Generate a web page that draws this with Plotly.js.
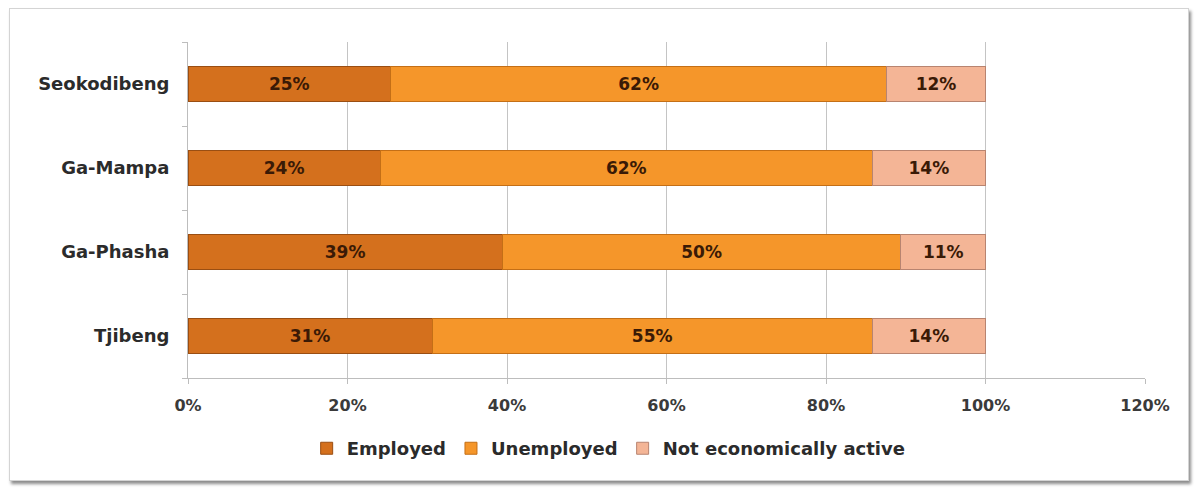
<!DOCTYPE html>
<html>
<head>
<meta charset="utf-8">
<script src="https://cdn.plot.ly/plotly-3.0.1.min.js"></script>
<style>
  html, body { margin: 0; padding: 0; background: #ffffff; }
  #wrap { position: relative; width: 1196px; height: 489px; }
  #chart { position: absolute; left: 0; top: 0; width: 1196px; height: 489px; }
  #frame { position: absolute; left: 9px; top: 8px; width: 1178px; height: 471px;
           border: 1px solid #d4d4d4; box-shadow: 2px 3px 3px #8c8c8c; pointer-events: none; }
</style>
</head>
<body>
<div id="wrap">
  <div id="frame"></div>
  <div id="chart"></div>
</div>
<script>
// Data (bottom-to-top category order)
const villages = ["Tjibeng", "Ga-Phasha", "Ga-Mampa", "Seokodibeng"];
const employed = [30.6, 39.4, 24.1, 25.4];
const unemployed = [55.2, 50.0, 61.7, 62.2];
const notActive = [14.2, 10.6, 14.2, 12.4];
const seriesNames = ["Employed", "Unemployed", "Not economically active"];
const tickVals = [0, 20, 40, 60, 80, 100, 120];
const tickText = ["0%", "20%", "40%", "60%", "80%", "100%", "120%"];

const colors = ["#d4701d", "#f5962a", "#f4b596"];
const lineColors = ["#9a4e12", "#c46f16", "#b88470"];
const values = [employed, unemployed, notActive];
const FONT = "DejaVu Sans, Verdana, sans-serif";

const traces = values.map((v, i) => ({
  type: "bar",
  orientation: "h",
  name: seriesNames[i],
  y: villages,
  x: v,
  width: 0.41,
  marker: { color: colors[i], line: { color: lineColors[i], width: 1 } },
  text: v.map(d => Math.round(d) + "%"),
  textposition: "inside",
  insidetextanchor: "middle",
  constraintext: "none",
  textfont: { family: FONT, size: 17, color: "#3a1a06", weight: "bold" },
  hoverinfo: "name+x"
}));

const layout = {
  width: 1196,
  height: 489,
  margin: { l: 188, r: 51, t: 42, b: 111 },
  paper_bgcolor: "rgba(0,0,0,0)",
  plot_bgcolor: "rgba(0,0,0,0)",
  barmode: "stack",
  showlegend: true,
  legend: {
    orientation: "h",
    x: 0.124, xanchor: "left",
    y: -0.21, yanchor: "middle",
    font: { family: FONT, size: 18, color: "#2b2b2b", weight: "bold" },
    itemwidth: 30,
    traceorder: "normal"
  },
  xaxis: {
    range: [0, 120],
    tickvals: tickVals,
    ticktext: tickText,
    showgrid: true,
    gridcolor: "#c4c4c4",
    gridwidth: 1,
    zeroline: false,
    showline: true,
    linecolor: "#bdbdbd",
    ticks: "outside",
    ticklen: 5,
    tickcolor: "#bdbdbd",
    ticklabelstandoff: 8,
    tickfont: { family: FONT, size: 16, color: "#3a3a3a", weight: "bold" },
    fixedrange: true
  },
  yaxis: {
    type: "category",
    range: [-0.5, 3.5],
    showgrid: false,
    zeroline: false,
    showline: true,
    linecolor: "#bdbdbd",
    ticks: "outside",
    tickson: "boundaries",
    ticklen: 5,
    tickcolor: "#bdbdbd",
    ticklabelstandoff: 14,
    tickfont: { family: FONT, size: 18, color: "#2b2b2b", weight: "bold" },
    fixedrange: true
  }
};

Plotly.newPlot("chart", traces, layout, { displayModeBar: false, staticPlot: true });
</script>
</body>
</html>
